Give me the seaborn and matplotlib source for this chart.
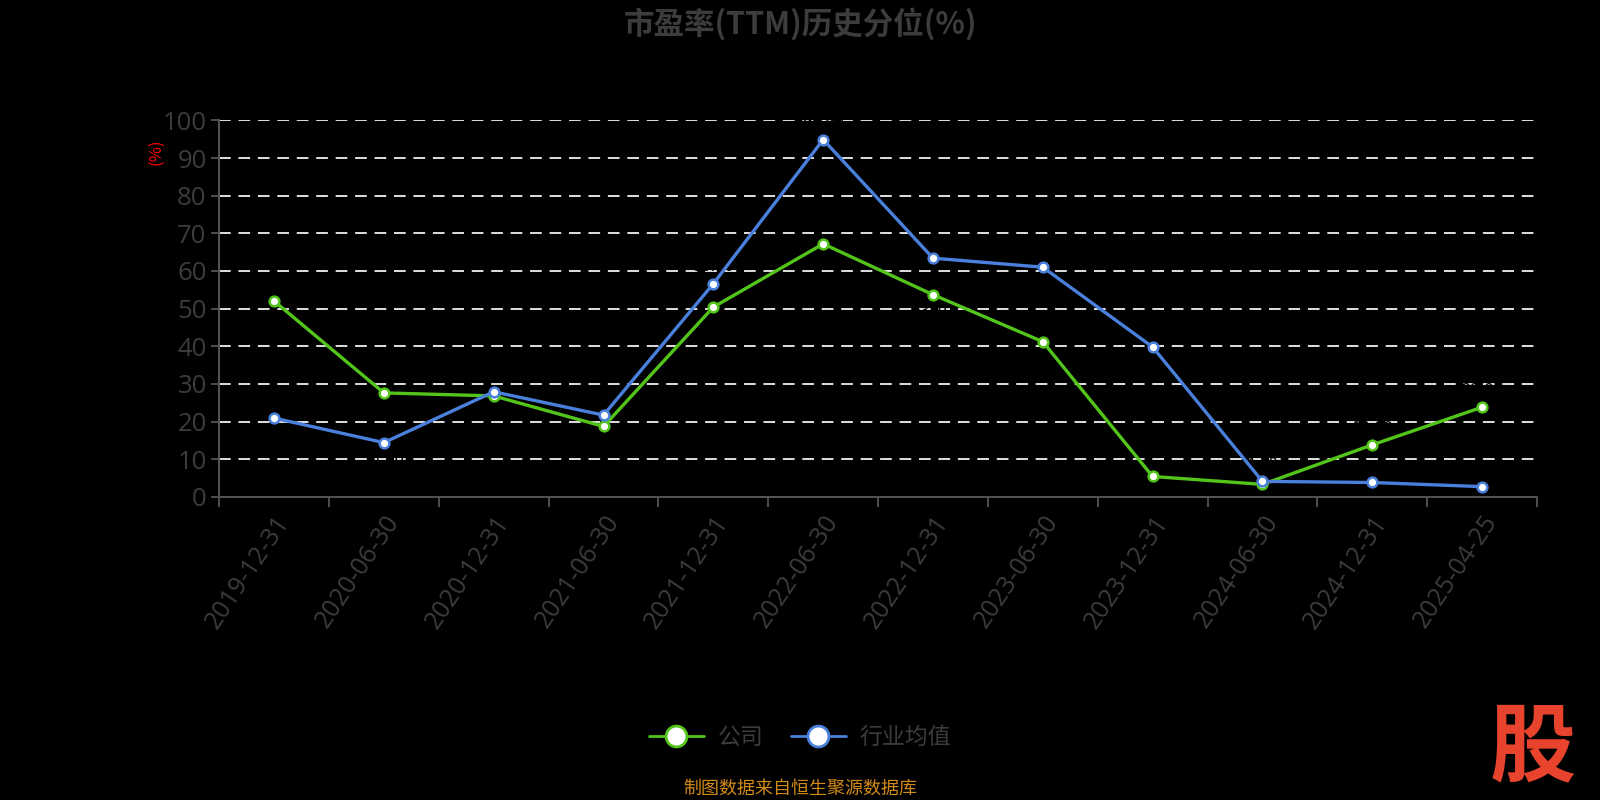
import matplotlib
matplotlib.use("Agg")
import matplotlib.pyplot as plt
from matplotlib.lines import Line2D
import seaborn as sns
import pandas as pd
import numpy as np

dates = ["2019-12-31", "2020-06-30", "2020-12-31", "2021-06-30", "2021-12-31", "2022-06-30",
         "2022-12-31", "2023-06-30", "2023-12-31", "2024-06-30", "2024-12-31", "2025-04-25"]
company = [52.0, 27.6, 26.8, 18.7, 50.4, 67.2, 53.7, 41.2, 5.4, 3.3, 13.8, 23.8]
industry = [20.9, 14.4, 27.9, 21.7, 56.6, 94.9, 63.4, 61.0, 39.8, 4.1, 3.8, 2.7]
series_names = ["公司", "行业均值"]
colors = ["#52c41a", "#4a80dc"]
yticks = [0, 10, 20, 30, 40, 50, 60, 70, 80, 90, 100]

sns.set_theme(style="dark")
plt.rcParams['font.family'] = ['Noto Sans CJK SC', 'DejaVu Sans']
num_font = ['Open Sans', 'Noto Sans', 'DejaVu Sans']

df = pd.DataFrame({
    "idx": list(range(len(dates))) * 2,
    "value": company + industry,
    "series": [series_names[0]] * len(dates) + [series_names[1]] * len(dates),
})

fig = plt.figure(figsize=(16, 8), dpi=100, facecolor="black")
ax = fig.add_axes([0.137, 0.379, 0.8236, 0.4705])
ax.set_facecolor("black")

sns.lineplot(data=df, x="idx", y="value", hue="series", palette=colors, ax=ax,
             marker="o", markersize=7, markerfacecolor="white", markeredgewidth=1.8,
             linewidth=2.4, legend=False, zorder=3)
for line, c in zip(ax.get_lines(), colors):
    line.set_markeredgecolor(c)

# black (nearly invisible) value labels, as in the reference
for i in range(len(dates)):
    c, d = company[i], industry[i]
    for v, other in ((c, d), (d, c)):
        if v >= other:
            ax.text(i, v + 2.2, f"{v:.2f}", color="black", fontsize=12, ha="center", va="bottom", zorder=2)
        else:
            ax.text(i, v - 2.2, f"{v:.2f}", color="black", fontsize=12, ha="center", va="top", zorder=2)

ax.set_xlim(-0.5, len(dates) - 0.5)
ax.set_ylim(0, 100)
ax.set_yticks(yticks)
ax.set_yticklabels([str(t) for t in yticks], fontsize=18.5, color="#3c3c3c", family=num_font)
ax.set_xticks(range(len(dates)))
ax.set_xticklabels(dates, rotation=56, ha="right", rotation_mode="anchor", fontsize=18,
                   color="#3c3c3c", family=num_font)
ax.set_xticks(np.arange(-0.5, len(dates), 1.0), minor=True)
ax.tick_params(axis="x", which="major", length=0, pad=10)
ax.tick_params(axis="x", which="minor", length=7, width=1.3, color="#555555", bottom=True)
ax.tick_params(axis="y", which="major", length=6, width=1.3, color="#555555", left=True, pad=3)
ax.set_xlabel("")
ax.set_ylabel("")

for y in yticks[1:]:
    ax.axhline(y, color="#e0e0e0", linestyle=(0, (6, 4)), linewidth=1.4, zorder=1)
ax.grid(False)

for s in ["top", "right"]:
    ax.spines[s].set_visible(False)
for s in ["left", "bottom"]:
    ax.spines[s].set_visible(True)
    ax.spines[s].set_color("#555555")
    ax.spines[s].set_linewidth(1.4)

fig.text(0.0975, 0.81, "(%)", color="red", fontsize=12, rotation=90, ha="center", va="center")

fig.text(0.5, 0.97, "市盈率(TTM)历史分位(%)", color="#3c3c3c", fontsize=22, fontweight="bold",
         ha="center", va="center")

handles = [Line2D([0], [0], color=c, linewidth=2, marker="o", markersize=15,
                  markerfacecolor="white", markeredgecolor=c, markeredgewidth=2)
           for c in colors]
leg = fig.legend(handles, series_names, loc="center", bbox_to_anchor=(0.5, 0.078), ncol=2,
                 frameon=False, fontsize=16.5, handlelength=2.4, columnspacing=1.2, handletextpad=0.6)
for t in leg.get_texts():
    t.set_color("#3c3c3c")

fig.text(0.5, 0.014, "制图数据来自恒生聚源数据库", color="#d08a18", fontsize=13, ha="center", va="center")
fig.text(0.958, 0.064, "股", color="#e8432d", fontsize=62, fontweight="heavy", style="italic",
         ha="center", va="center")

fig.savefig("out.png", dpi=100, facecolor="black")
